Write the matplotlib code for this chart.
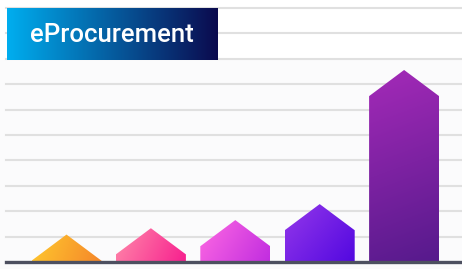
import numpy as np
import matplotlib.pyplot as plt
from matplotlib.patches import Polygon, Rectangle
from matplotlib.colors import LinearSegmentedColormap

# chart data (apex height of each "house" bar, in grid units)
categories = ['A', 'B', 'C', 'D', 'E']
values = [1.08, 1.33, 1.65, 2.28, 7.56]
top_colors = ['#ffca2e', '#ff8aaa', '#ff6ae2', '#9438ea', '#a42ab8']
bottom_colors = ['#f5862a', '#f71e8e', '#c12de0', '#5208e0', '#561a8c']
title = 'eProcurement'

W, H = 462, 269
fig = plt.figure(figsize=(W / 100, H / 100), dpi=100)
fig.patch.set_facecolor('#fbfbfc')

# white strip behind the top of the chart
bg = fig.add_axes([0, 1 - 60 / H, 1, 60 / H], zorder=-5)
bg.set_facecolor('white')
bg.set_axis_off()
bg.add_patch(Rectangle((0, 0), 1, 1, transform=bg.transAxes, facecolor='white', edgecolor='none'))

# axes placement: baseline at y=262px, 25.4px per grid unit
unit_x = 84.4
left_px, right_px = 6, 462
base_px = 262
unit_y = 25.4
ax = fig.add_axes([left_px / W, (H - base_px) / H, (right_px - left_px) / W, 10 * unit_y / H], zorder=1)
ax.set_xlim((left_px - 66.5) / unit_x, (right_px - 66.5) / unit_x)
ax.set_ylim(0, 10)
ax.patch.set_alpha(0)
for s in ax.spines.values():
    s.set_visible(False)
ax.set_xticks([])
ax.set_yticks([])

for g in range(1, 11):
    ax.axhline(g, color='#e0e0e0', lw=1.5, zorder=1, clip_on=False)

bar_w = 70 / unit_x
roof = 1.03
for i, v in enumerate(values):
    x0, x1 = i - bar_w / 2, i + bar_w / 2
    r = min(roof, v)
    shoulder = v - r
    pts = [(x0, 0), (x0, shoulder), (i, v), (x1, shoulder), (x1, 0)]
    poly = Polygon(pts, closed=True, facecolor='none', edgecolor='none')
    ax.add_patch(poly)
    # diagonal gradient measured in pixel space
    w_px, h_px = 70.0, v * unit_y
    yy, xx = np.mgrid[0:1:200j, 0:1:200j]
    grad = (xx * w_px * w_px + yy * h_px * h_px) / (w_px * w_px + h_px * h_px)
    cmap = LinearSegmentedColormap.from_list('g%d' % i, [top_colors[i], bottom_colors[i]])
    im = ax.imshow(grad, cmap=cmap, extent=[x0, x1, 0, v], origin='upper',
                   aspect='auto', interpolation='bilinear', zorder=2)
    im.set_clip_path(poly)

ax.axhline(0, color='#4d5060', lw=2.4, zorder=3, clip_on=False)
ax.set_xlim((left_px - 66.5) / unit_x, (right_px - 66.5) / unit_x)
ax.set_ylim(0, 10)

# title box with horizontal gradient
tx0, tx1, ty0, ty1 = 7, 218, 8, 60
tax = fig.add_axes([tx0 / W, (H - ty1) / H, (tx1 - tx0) / W, (ty1 - ty0) / H], zorder=5)
tcmap = LinearSegmentedColormap.from_list('title', ['#00aeef', '#0b0a4e'])
tax.imshow(np.linspace(0, 1, 256)[None, :], cmap=tcmap, aspect='auto', extent=[0, 1, 0, 1])
tax.set_axis_off()
tax.text(0.495, 0.48, title, color='white', fontsize=18.5, family='Roboto', weight='medium',
         ha='center', va='center', transform=tax.transAxes)

fig.savefig('out.png', dpi=100, facecolor=fig.get_facecolor())
